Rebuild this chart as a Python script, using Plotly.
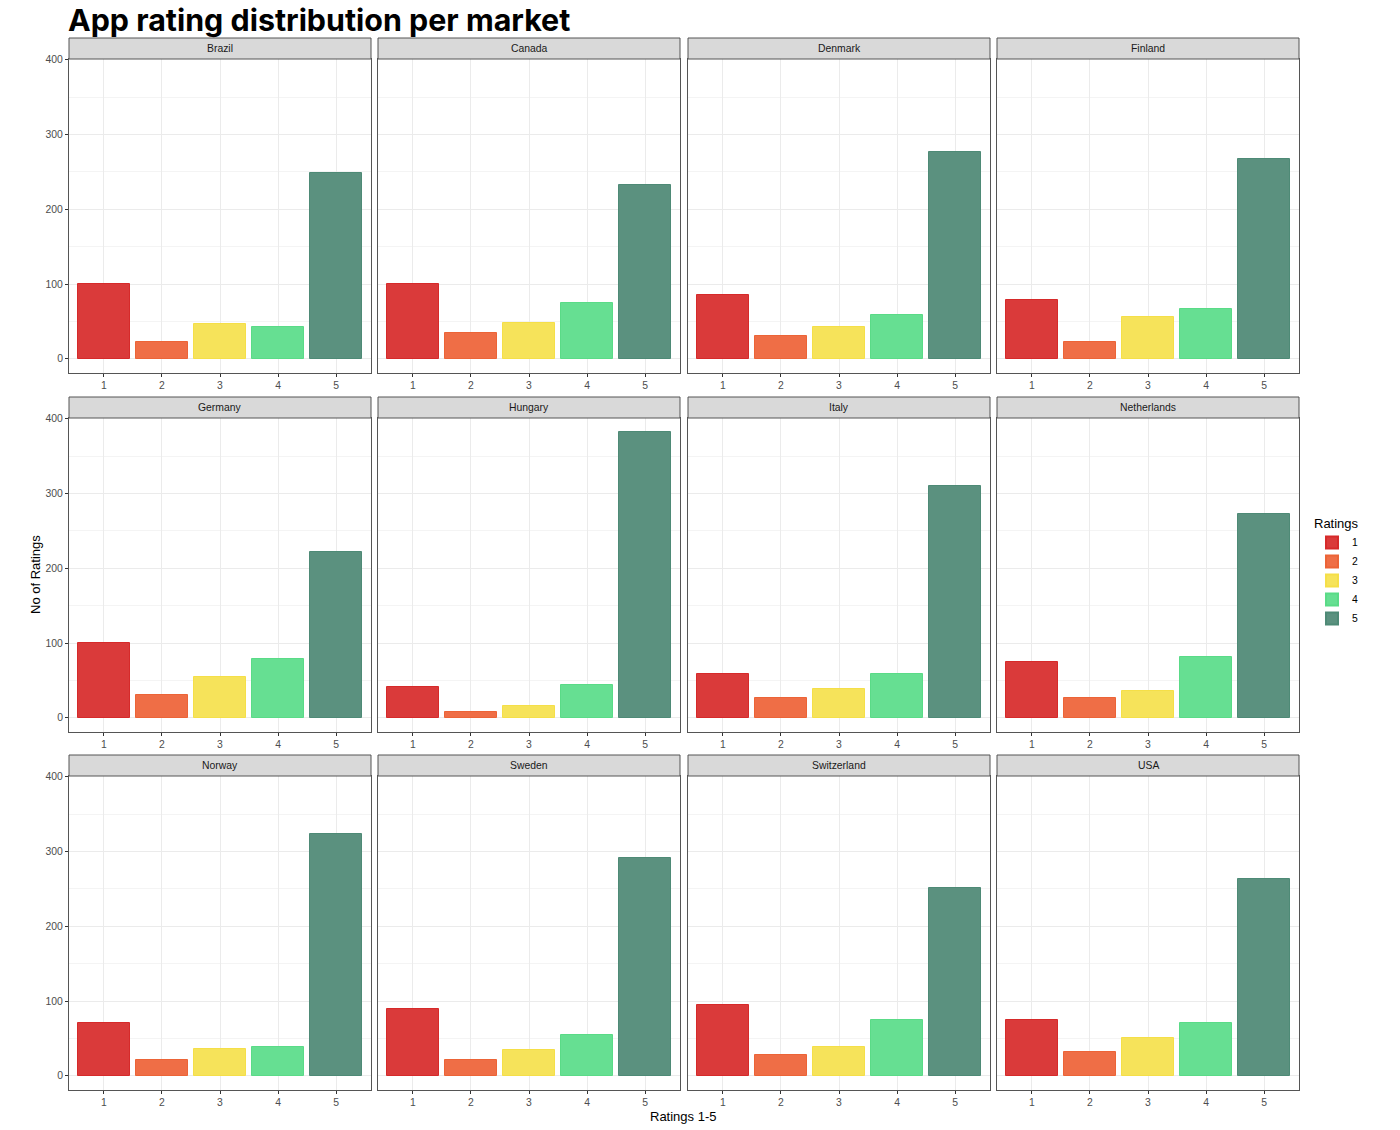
import plotly.graph_objects as go

countries = ["Brazil", "Canada", "Denmark", "Finland",
             "Germany", "Hungary", "Italy", "Netherlands",
             "Norway", "Sweden", "Switzerland", "USA"]
ratings = ["1", "2", "3", "4", "5"]
rating1 = [100, 100, 85, 79, 100, 41, 58, 75, 71, 89, 95, 74]
rating2 = [23, 34, 30, 23, 31, 8, 26, 27, 21, 21, 28, 32]
rating3 = [47, 48, 43, 56, 54, 16, 39, 36, 36, 34, 39, 51]
rating4 = [42, 75, 59, 67, 79, 44, 58, 81, 39, 54, 74, 71]
rating5 = [248, 233, 276, 267, 222, 382, 310, 273, 323, 292, 251, 263]
series = [rating1, rating2, rating3, rating4, rating5]

fill_colors = ["#DA3A3A", "#EF6E46", "#F6E35A", "#66DF92", "#5B917F"]
line_colors = ["#D62A2A", "#EC6437", "#F5DF48", "#5ADB87", "#4E8A76"]

W, H = 1400, 1130


def px_x(p):
    return p / W


def px_y(p):
    return 1 - p / H


col_px = [(69, 371), (378, 680), (688, 990), (997, 1299)]
row_px = [(59, 373), (418, 732), (776, 1090)]
strip_h = 21
TICKFONT = dict(size=10.4, color="#4D4D4D", family="Liberation Sans")

fig = go.Figure()
layout = dict(
    width=W, height=H,
    margin=dict(l=0, r=0, t=0, b=0),
    plot_bgcolor="white", paper_bgcolor="white",
    showlegend=True,
    font=dict(family="Liberation Sans", color="#4D4D4D", size=10),
)
shapes = []
annotations = []

ymax_data = max(max(s) for s in series)
yr = [-0.05 * ymax_data, ymax_data * 1.05]

for i, c in enumerate(countries):
    r, col = divmod(i, 4)
    n = i + 1
    xa = "x" if n == 1 else f"x{n}"
    ya = "y" if n == 1 else f"y{n}"
    for k, rt in enumerate(ratings):
        fig.add_trace(go.Bar(
            x=[int(rt)], y=[series[k][i]], width=0.9,
            marker=dict(color=fill_colors[k], line=dict(color=line_colors[k], width=1)),
            name=rt, legendgroup=rt, showlegend=(i == 0),
            xaxis=xa, yaxis=ya,
        ))
    x0, x1 = col_px[col]
    y0, y1 = row_px[r]
    xd = [px_x(x0), px_x(x1)]
    yd = [px_y(y1), px_y(y0)]
    layout[f"xaxis{'' if n == 1 else n}"] = dict(
        domain=xd, anchor=ya, range=[0.4, 5.6],
        tickvals=[1, 2, 3, 4, 5], ticktext=ratings,
        showgrid=True, gridcolor="#EBEBEB", gridwidth=1,
        zeroline=False, showline=True, mirror=True,
        linecolor="#555555", linewidth=1,
        ticks="outside", ticklen=3, tickcolor="#333333",
        tickfont=TICKFONT,
        automargin=False, fixedrange=True,
    )
    layout[f"yaxis{'' if n == 1 else n}"] = dict(
        domain=yd, anchor=xa, range=yr,
        tickvals=[0, 100, 200, 300, 400],
        showticklabels=(col == 0),
        showgrid=True, gridcolor="#EBEBEB", gridwidth=1,
        minor=dict(dtick=50, tick0=0, showgrid=True, gridcolor="#F4F4F4", gridwidth=1),
        zeroline=False, showline=True, mirror=True,
        linecolor="#555555", linewidth=1,
        ticks="outside" if col == 0 else "", ticklen=3, tickcolor="#333333",
        tickfont=TICKFONT,
        automargin=False, fixedrange=True,
    )
    # strip header
    shapes.append(dict(type="rect", xref="paper", yref="paper",
                       x0=xd[0], x1=xd[1], y0=yd[1], y1=px_y(y0 - strip_h),
                       fillcolor="#D9D9D9", line=dict(color="#555555", width=1), layer="above"))
    annotations.append(dict(text=c, xref="paper", yref="paper",
                            x=(xd[0] + xd[1]) / 2, y=px_y(y0 - strip_h / 2),
                            xanchor="center", yanchor="middle", showarrow=False,
                            font=dict(size=10.4, color="#1A1A1A", family="Liberation Sans")))

annotations.append(dict(text="No of Ratings", xref="paper", yref="paper",
                        x=px_x(35), y=px_y(575), textangle=-90,
                        xanchor="center", yanchor="middle", showarrow=False,
                        font=dict(size=13, color="#000000", family="Liberation Sans")))
annotations.append(dict(text="Ratings 1-5", xref="paper", yref="paper",
                        x=px_x(683), y=px_y(1116),
                        xanchor="center", yanchor="middle", showarrow=False,
                        font=dict(size=13, color="#000000", family="Liberation Sans")))
annotations.append(dict(text="<b>App rating distribution per market</b>", xref="paper", yref="paper",
                        x=px_x(66), y=1,
                        xanchor="left", yanchor="top", showarrow=False,
                        font=dict(size=30.4, color="#000000", family="Inter")))

layout["shapes"] = shapes
layout["annotations"] = annotations
layout["legend"] = dict(
    x=px_x(1312), y=px_y(511), xanchor="left", yanchor="top",
    title=dict(text="Ratings", font=dict(size=13, color="#000000", family="Liberation Sans")),
    font=dict(size=10.4, color="#000000", family="Liberation Sans"),
    bgcolor="rgba(0,0,0,0)", tracegroupgap=0, itemsizing="constant", itemwidth=30,
)
layout["bargap"] = 0
fig.update_layout(**layout)
fig.write_html("out.html",
               config={"displayModeBar": False},
               post_script="document.body.style.margin='0';document.body.style.overflow='hidden';")
